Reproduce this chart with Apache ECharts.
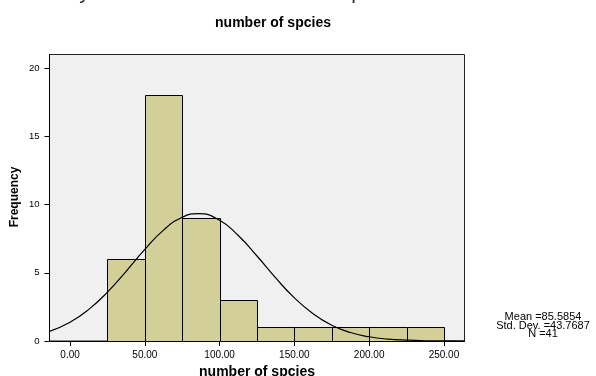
<!DOCTYPE html>
<html>
<head>
<meta charset="utf-8">
<script src="https://cdn.jsdelivr.net/npm/echarts@6/dist/echarts.min.js"></script>
<style>
html,body{margin:0;padding:0;background:#fff;}
#c{width:596px;height:376px;}
</style>
</head>
<body>
<div id="c"></div>
<script>
// Histogram bins (lower edge, upper edge) and frequencies
var binStart = [25, 50, 75, 100, 125, 150, 175, 200, 225];
var binEnd   = [50, 75, 100, 125, 150, 175, 200, 225, 250];
var counts   = [6, 18, 9, 3, 1, 1, 1, 1, 1];
// Normal curve
var curveX = [-13.75, 0, 12.5, 25, 37.5, 50, 62.5, 75, 85.6, 100, 112.5, 125, 137.5, 150, 162.5, 175, 187.5, 200, 212.5, 225, 237.5, 250, 263.75];
var curveY = [0.71, 1.38, 2.32, 3.58, 5.11, 6.71, 8.13, 9.07, 9.34, 8.85, 7.73, 6.23, 4.62, 3.16, 2.00, 1.16, 0.62, 0.31, 0.14, 0.06, 0.02, 0.01, 0.00];
var xTicks = [0, 50, 100, 150, 200, 250];
var yTicks = [0, 5, 10, 15, 20];
var statsLines = ['Mean =85.5854', 'Std. Dev. =43.7687', 'N =41'];
var titleText = 'number of spcies';
var xName = 'number of spcies';
var yName = 'Frequency';

var barData = binStart.map(function (s, i) { return [s, binEnd[i], counts[i]]; });
var curveData = curveX.map(function (x, i) { return [x, curveY[i]]; });

var chart = echarts.init(document.getElementById('c'), null, {renderer: 'canvas'});
var font = 'Arial, "Liberation Sans", Helvetica, sans-serif';

var statsGraphics = statsLines.map(function (t, i) {
  return {
    type: 'text', x: 543, y: 317 + i * 8.5,
    style: {text: t, fontFamily: font, fontSize: 11, fill: '#000', align: 'center', verticalAlign: 'middle'}
  };
});

chart.setOption({
  animation: false,
  backgroundColor: '#fff',
  title: {
    text: titleText,
    left: 268, top: 11, textAlign: 'center',
    textStyle: {fontFamily: font, fontSize: 14, fontWeight: 'bold', color: '#000'}
  },
  grid: {
    left: 49.5, right: 131.5, top: 54.5, bottom: 35,
    outerBoundsMode: 'none', containLabel: false,
    show: true, backgroundColor: '#f0f0f0', borderColor: '#222', borderWidth: 1
  },
  xAxis: {
    type: 'value', min: -13.75, max: 263.75,
    name: xName, nameLocation: 'middle', nameGap: 24,
    nameTextStyle: {fontFamily: font, fontSize: 14, fontWeight: 'bold', color: '#000'},
    axisLine: {show: true, onZero: false, lineStyle: {color: '#000', width: 1}},
    axisTick: {show: true, customValues: xTicks, length: 5, lineStyle: {color: '#000'}},
    axisLabel: {customValues: xTicks, margin: 9, fontFamily: font, fontSize: 10, color: '#000',
      formatter: function (v) { return v.toFixed(2); }},
    splitLine: {show: false}
  },
  yAxis: {
    type: 'value', min: 0, max: 21,
    axisLine: {show: true, onZero: false, lineStyle: {color: '#000', width: 1}},
    axisTick: {show: true, customValues: yTicks, length: 5, lineStyle: {color: '#000'}},
    axisLabel: {customValues: yTicks, margin: 10, fontFamily: font, fontSize: 9.5, color: '#000'},
    splitLine: {show: false}
  },
  series: [
    {
      type: 'custom',
      data: barData,
      encode: {x: [0, 1], y: 2},
      renderItem: function (params, api) {
        var p0 = api.coord([api.value(0), api.value(2)]);
        var p1 = api.coord([api.value(1), 0]);
        return {
          type: 'rect',
          shape: {x: Math.round(p0[0]) + 0.5, y: Math.round(p0[1]) + 0.5,
                  width: Math.round(p1[0]) - Math.round(p0[0]), height: Math.round(p1[1]) - Math.round(p0[1])},
          style: {fill: '#d3cf98', stroke: '#000', lineWidth: 1}
        };
      },
      z: 2
    },
    {
      type: 'line',
      data: curveData,
      smooth: true,
      showSymbol: false,
      lineStyle: {color: '#000', width: 1.2},
      clip: true,
      z: 3
    }
  ],
  graphic: [
    {
      type: 'text', left: 0, top: -17,
      style: {text: 'Summary statistics of the number of species', fontFamily: font, fontSize: 21, fill: '#333'}
    },
    {
      type: 'text', x: 15, y: 197, rotation: Math.PI / 2,
      style: {text: yName, fontFamily: font, fontSize: 12, fontWeight: 'bold', fill: '#000',
        align: 'center', verticalAlign: 'middle'}
    }
  ].concat(statsGraphics)
});
</script>
</body>
</html>
